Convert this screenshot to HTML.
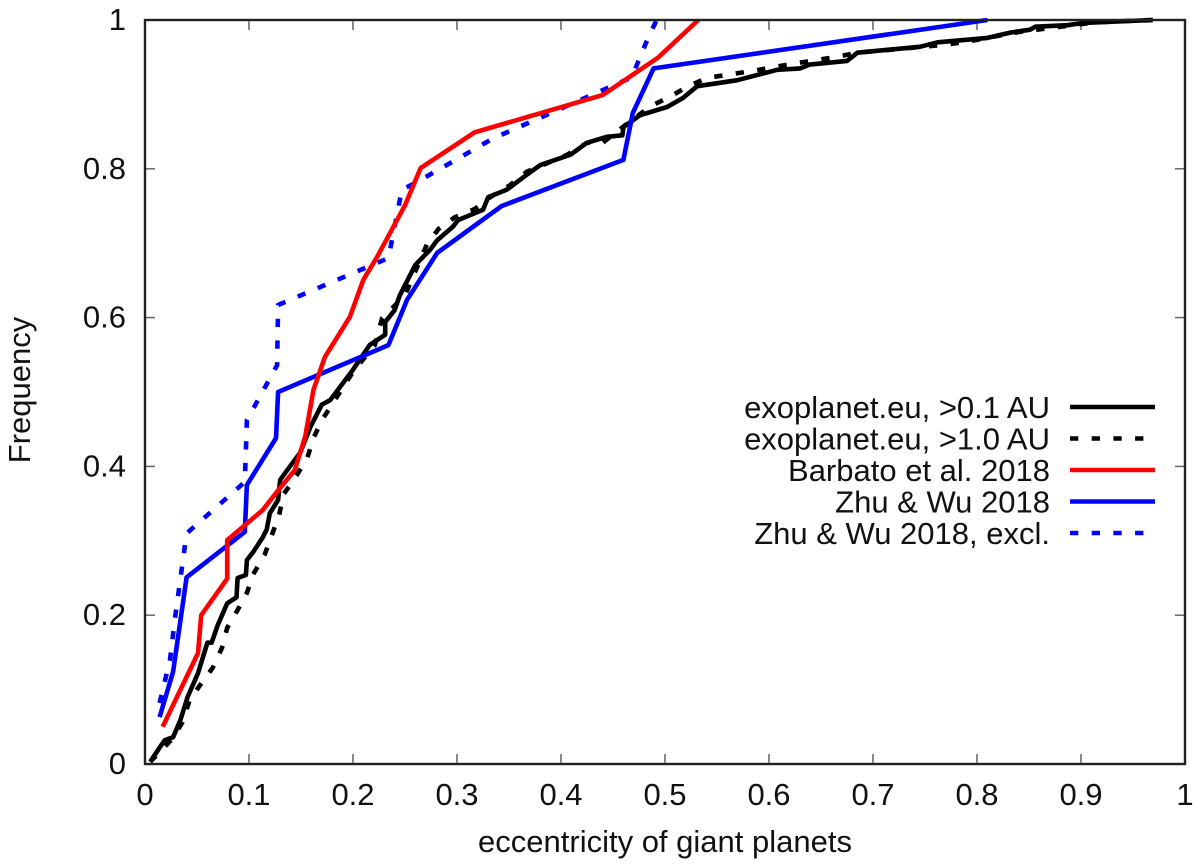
<!DOCTYPE html>
<html lang="en">
<head>
<meta charset="utf-8">
<title>Eccentricity of giant planets</title>
<style>
html,body{margin:0;padding:0;background:#fff;width:1200px;height:865px;overflow:hidden}
svg{display:block}
text{font-family:"Liberation Sans",Arial,sans-serif;font-size:31px;fill:#111}
</style>
</head>
<body>
<svg id="chart" xmlns="http://www.w3.org/2000/svg" width="1200" height="865" viewBox="0 0 1200 865">
  <rect x="0" y="0" width="1200" height="865" fill="#fff"/>
  <g id="ticks"></g>
  <g id="series"></g>
  <rect x="145" y="20" width="1040" height="744" fill="none" stroke="#222" stroke-width="2.4"/>
  <g id="tick-labels"></g>
  <text x="665" y="852" text-anchor="middle">eccentricity of giant planets</text>
  <text x="30" y="390" text-anchor="middle" transform="rotate(-90 30 390)">Frequency</text>
  <g id="legend"></g>
</svg>
<script>
const xTicks = [0, 0.1, 0.2, 0.3, 0.4, 0.5, 0.6, 0.7, 0.8, 0.9, 1];
const xTickLabels = ["0", "0.1", "0.2", "0.3", "0.4", "0.5", "0.6", "0.7", "0.8", "0.9", "1"];
const yTicks = [0, 0.2, 0.4, 0.6, 0.8, 1];
const yTickLabels = ["0", "0.2", "0.4", "0.6", "0.8", "1"];

const seriesNames = ["exoplanet.eu, >0.1 AU", "exoplanet.eu, >1.0 AU", "Barbato et al. 2018", "Zhu & Wu 2018", "Zhu & Wu 2018, excl."];

const exo01X = [.005,.014,.019,.027,.034,.041,.051,.060,.064,.070,.079,.088,.089,.097,.098,.104,.113,.117,.120,.128,.130,.142,.149,.159,.170,.178,.200,.216,.231,.231,.240,.245,.260,.274,.281,.296,.301,.325,.330,.348,.367,.380,.409,.425,.444,.459,.460,.476,.502,.517,.531,.569,.608,.630,.639,.675,.685,.745,.762,.810,.832,.851,.856,.887,.902,.969];
const exo01Y = [.003,.022,.032,.036,.059,.090,.122,.163,.163,.187,.216,.224,.250,.254,.274,.285,.304,.315,.337,.355,.382,.405,.418,.453,.483,.489,.530,.563,.577,.594,.610,.630,.671,.691,.704,.722,.731,.745,.762,.772,.792,.805,.819,.835,.843,.845,.856,.872,.883,.895,.911,.919,.933,.935,.940,.945,.956,.964,.970,.976,.983,.987,.991,.993,.996,1];

const exo10X = [.005,.027,.036,.043,.053,.065,.074,.079,.089,.098,.104,.115,.122,.129,.133,.144,.156,.162,.170,.200,.221,.228,.250,.271,.282,.298,.317,.332,.351,.367,.406,.425,.440,.462,.486,.505,.521,.540,.582,.622,.663,.685,.764,.787,.841,.915,.969];
const exo10Y = [.003,.035,.056,.086,.106,.129,.156,.183,.207,.230,.255,.281,.308,.335,.362,.384,.411,.438,.462,.527,.563,.599,.630,.698,.719,.735,.746,.762,.778,.796,.819,.835,.835,.859,.884,.897,.910,.922,.931,.941,.950,.956,.966,.970,.984,.997,1];

const barbatoX = [.017,.051,.054,.079,.079,.113,.127,.144,.154,.162,.173,.197,.210,.223,.250,.265,.317,.440,.493,.532];
const barbatoY = [.050,.149,.200,.249,.301,.341,.366,.395,.440,.503,.547,.601,.651,.681,.751,.801,.849,.899,.949,1];

const zhuWuX = [.014,.027,.040,.096,.098,.126,.128,.234,.252,.281,.343,.460,.469,.489,.810];
const zhuWuY = [.063,.124,.251,.312,.375,.438,.500,.563,.624,.687,.750,.812,.875,.935,1];

const zhuWuExclX = [.014,.024,.029,.040,.096,.098,.127,.128,.234,.247,.260,.335,.447,.468,.484,.492];
const zhuWuExclY = [.082,.140,.198,.310,.379,.462,.536,.617,.680,.772,.781,.841,.910,.923,.977,1];

const NS = "http://www.w3.org/2000/svg";
const xScale = v => 145 + 1040 * v;
const yScale = v => 764 - 744 * v;
const lineWidth = 4.6;
const dashPattern = "8.3 13.4";

function make(tag, attrs) {
  const el = document.createElementNS(NS, tag);
  for (const k in attrs) el.setAttribute(k, attrs[k]);
  return el;
}

const tickGroup = document.getElementById("ticks");
const labelGroup = document.getElementById("tick-labels");

xTicks.forEach((v, i) => {
  const x = xScale(v);
  [[764, 754], [20, 30]].forEach(pair => {
    const t = make("line", {x1: x, x2: x, y1: pair[0], y2: pair[1], stroke: "#666", "stroke-width": 1.5});
    
    
    tickGroup.appendChild(t);
  });
  const lab = make("text", {x: x, y: 805, "text-anchor": "middle"});
  lab.textContent = xTickLabels[i];
  
  
  labelGroup.appendChild(lab);
});

yTicks.forEach((v, i) => {
  const y = yScale(v);
  [[145, 155], [1185, 1175]].forEach(pair => {
    const t = make("line", {x1: pair[0], x2: pair[1], y1: y, y2: y, stroke: "#666", "stroke-width": 1.5});
    
    
    tickGroup.appendChild(t);
  });
  const lab = make("text", {x: 126, y: y + 10, "text-anchor": "end"});
  lab.textContent = yTickLabels[i];
  
  
  labelGroup.appendChild(lab);
});

function drawSeries(xs, ys, color, dashed, name) {
  const pts = xs.map((x, i) => xScale(x).toFixed(1) + "," + yScale(ys[i]).toFixed(1)).join(" ");
  const line = make("polyline", {points: pts, fill: "none", stroke: color, "stroke-width": lineWidth, "stroke-linejoin": "round"});
  if (dashed) line.setAttribute("stroke-dasharray", dashPattern);
  
  
  document.getElementById("series").appendChild(line);
}

drawSeries(exo10X, exo10Y, "#000", true, "series-exoplanet-1au");
drawSeries(exo01X, exo01Y, "#000", false, "series-exoplanet-01au");
drawSeries(zhuWuExclX, zhuWuExclY, "#0000ff", true, "series-zhu-wu-excl");
drawSeries(zhuWuX, zhuWuY, "#0000ff", false, "series-zhu-wu");
drawSeries(barbatoX, barbatoY, "#ff0000", false, "series-barbato");

const legendColors = ["#000", "#000", "#ff0000", "#0000ff", "#0000ff"];
const legendDashed = [false, true, false, false, true];
const legendGroup = document.getElementById("legend");
seriesNames.forEach((name, i) => {
  const y = 407 + i * 31.5;
  const txt = make("text", {x: 1050, y: y + 11, "text-anchor": "end"});
  txt.textContent = name;
  
  
  legendGroup.appendChild(txt);
  const ln = make("line", {x1: 1070, x2: 1155, y1: y, y2: y, stroke: legendColors[i], "stroke-width": lineWidth});
  if (legendDashed[i]) ln.setAttribute("stroke-dasharray", dashPattern);
  
  
  legendGroup.appendChild(ln);
});
</script>
</body>
</html>
